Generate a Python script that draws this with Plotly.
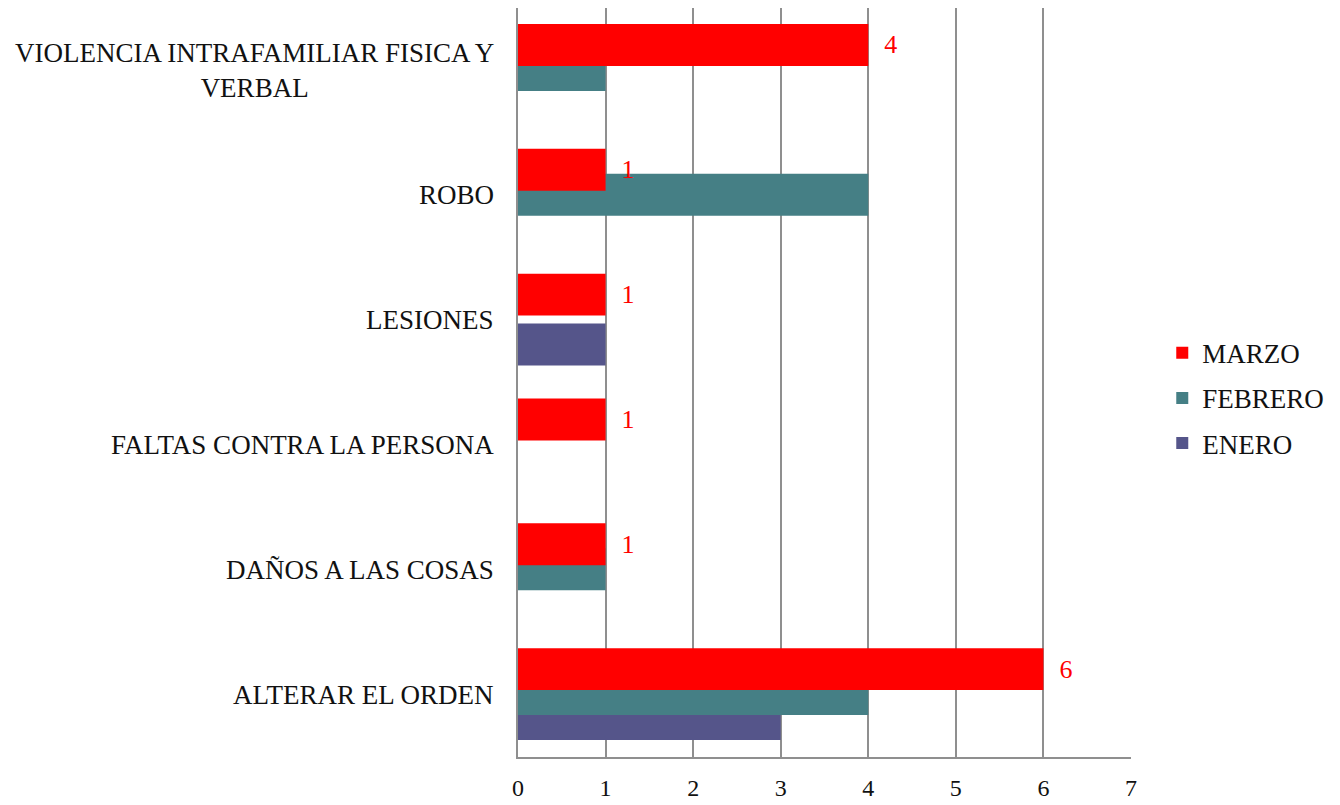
import plotly.graph_objects as go

categorias = ["ALTERAR EL ORDEN", "DAÑOS A LAS COSAS", "FALTAS CONTRA LA PERSONA",
              "LESIONES", "ROBO", "VIOLENCIA INTRAFAMILIAR FISICA Y<br>VERBAL"]
enero = [3, 0, 0, 1, 0, 0]
febrero = [4, 1, 0, 0, 4, 1]
marzo = [6, 1, 1, 1, 1, 4]
ticks_x = [0, 1, 2, 3, 4, 5, 6, 7]

fuente = "Liberation Serif"
gris = "#8f8f8f"

fig = go.Figure()

# Excel-style overlapping bars: each bar 0.336 tall, shifted 0.2 per series
series = [("ENERO", enero, "#55558a", -0.364, 3),
          ("FEBRERO", febrero, "#457f85", -0.164, 2),
          ("MARZO", marzo, "#ff0000", 0.036, 1)]
for nombre, vals, color, off, rank in series:
    fig.add_trace(go.Bar(
        y=list(range(len(categorias))), x=vals, orientation="h", name=nombre,
        legendgroup=nombre, legendrank=rank,
        marker=dict(color=color, line=dict(width=0)),
        width=0.336, offset=off, cliponaxis=False,
        text=["  " + str(v) for v in vals] if nombre == "MARZO" else None,
        textposition="outside" if nombre == "MARZO" else "none",
        textfont=dict(family=fuente, size=26, color="#ff0000"),
    ))

for i, cat in enumerate(categorias):
    fig.add_annotation(x=0, xref="paper", xanchor="right", xshift=-22,
                       y=i, yref="y", text=cat, showarrow=False, align="center",
                       font=dict(family=fuente, size=27, color="#111111"))

# page body has an 8px margin, so the figure is 8px smaller each way
fig.update_layout(
    width=1332, height=797,
    margin=dict(l=510, r=209, t=0, b=48, autoexpand=False),
    plot_bgcolor="white", paper_bgcolor="white",
    barmode="overlay",
    font=dict(family=fuente, color="#111111"),
    legend=dict(x=1.051, y=0.479, xanchor="left", yanchor="middle",
                traceorder="grouped", tracegroupgap=7,
                font=dict(family=fuente, size=27, color="#111111")),
    xaxis=dict(range=[0, 7], tickvals=ticks_x, showgrid=True, gridcolor=gris,
               gridwidth=2, showline=True, linecolor=gris, linewidth=2,
               zeroline=False, ticks="", ticklabelstandoff=8, automargin=False,
               tickfont=dict(family=fuente, size=24, color="#111111")),
    yaxis=dict(range=[-0.5, 5.5], showticklabels=False, showgrid=False,
               showline=True, linecolor=gris, linewidth=2, zeroline=False,
               automargin=False),
)

fig.write_html("out.html")
